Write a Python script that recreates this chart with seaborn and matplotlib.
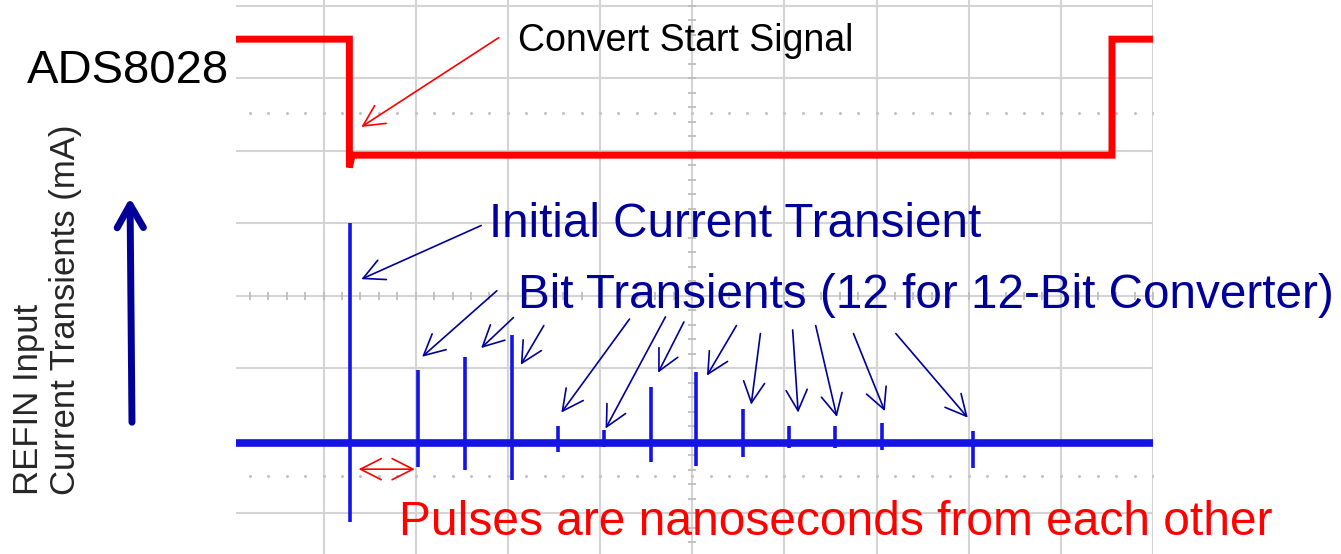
import seaborn as sns
import matplotlib.pyplot as plt
from matplotlib.patches import FancyArrowPatch

# scope screen coordinates are in divisions: x 0..10, y 0..8 (8 = top line)
# convert start signal (red channel)
red_t = [0.05, 1.28, 1.28, 1.31, 9.555, 9.555, 10.0]
red_v = [7.54, 7.54, 5.77, 5.94, 5.94, 7.54, 7.54]

# REFIN current (blue channel): baseline plus 13 transients
base_level = 1.97
spike_t = [1.29, 2.03, 2.54, 3.05, 3.54, 4.04, 4.55, 5.04, 5.55, 6.05, 6.55, 7.06, 8.05]
spike_hi = [5.01, 2.98, 3.16, 3.46, 2.21, 2.15, 2.74, 2.95, 2.44, 2.21, 2.21, 2.25, 2.14]
spike_lo = [0.88, 1.64, 1.60, 1.46, 1.85, 1.92, 1.71, 1.66, 1.78, 1.90, 1.90, 1.88, 1.63]

# annotation arrows (tail -> head) for the bit transients
bit_tail = [(2.88, 4.07), (3.06, 3.70), (3.39, 3.59), (4.32, 3.68), (4.71, 3.71), (4.91, 3.64),
            (5.48, 3.59), (5.74, 3.48), (6.09, 3.53), (6.34, 3.59), (6.75, 3.48), (7.21, 3.48)]
bit_head = [(2.07, 3.16), (2.71, 3.28), (3.14, 3.05), (3.58, 2.39), (4.06, 2.17), (4.63, 2.94),
            (5.16, 2.90), (5.64, 2.50), (6.15, 2.39), (6.57, 2.33), (7.09, 2.41), (7.99, 2.32)]

sns.set_style("white")
plt.rcParams['font.family'] = ['Liberation Sans', 'DejaVu Sans']

W, H = 1341, 554
fig = plt.figure(figsize=(W / 100, H / 100), dpi=100)
ax = fig.add_axes([236 / W, 0, (1153 - 236) / W, 1])
ax.set_xlim(0.05, 10.0)
ax.set_ylim(0.44, 8.08)

# graticule
grid_c = "#d4d4d4"
for gx in range(11):
    ax.axvline(gx, color=grid_c, lw=1.5, zorder=0)
for gy in range(9):
    ax.axhline(gy, color=grid_c, lw=1.5, zorder=0)
minor = [i / 5 for i in range(51)]
ax.plot(minor, [4] * len(minor), ls='', marker='|', ms=6, mew=1.3, color="#bdbdbd", zorder=0)
minor_y = [i / 5 for i in range(41)]
ax.plot([5] * len(minor_y), minor_y, ls='', marker='_', ms=6, mew=1.3, color="#bdbdbd", zorder=0)
for dy in (6.52, 1.52):
    ax.plot(minor, [dy] * len(minor), ls='', marker='.', ms=2.5, color="#c4c4c4", zorder=0)

# traces
sns.lineplot(x=red_t, y=red_v, sort=False, estimator=None, color="#ff0000", lw=5, ax=ax,
             zorder=2, solid_joinstyle="miter", solid_capstyle="butt")
sns.lineplot(x=[0.05, 10.0], y=[base_level, base_level], estimator=None, color="#1414e6",
             lw=5.5, ax=ax, zorder=2, solid_capstyle="butt")
ax.vlines(spike_t, spike_lo, spike_hi, color="#1414e6", lw=2.6, zorder=2)

ax.set_xticks([])
ax.set_yticks([])
sns.despine(ax=ax, left=True, bottom=True)

navy = "#000099"
thin = dict(arrowstyle="->,head_length=0.75,head_width=0.38", lw=1.2, color=navy,
            shrinkA=0, shrinkB=0, mutation_scale=20)

# text annotations
ax.annotate("", xy=(1.41, 6.33), xytext=(2.90, 7.56), annotation_clip=False,
            arrowprops={**thin, "color": "#ff0000"})
ax.text(3.11, 7.37, "Convert Start Signal", fontsize=27, color="black", va="baseline")

ax.annotate("", xy=(1.41, 4.23), xytext=(2.71, 4.97), arrowprops=thin)
ax.text(2.80, 4.81, "Initial Current Transient", fontsize=34.3, color=navy, va="baseline")

for tail, head in zip(bit_tail, bit_head):
    ax.annotate("", xy=head, xytext=tail, arrowprops=thin)
ax.text(3.11, 3.83, "Bit Transients (12 for 12-Bit Converter)", fontsize=34.3, color=navy,
        va="baseline", clip_on=False)

ax.annotate("", xy=(1.99, 1.61), xytext=(1.38, 1.61),
            arrowprops={**thin, "arrowstyle": "<->,head_length=0.75,head_width=0.38",
                        "color": "#ff0000"})
ax.text(1.82, 0.70, "Pulses are nanoseconds from each other", fontsize=34.5, color="#ff0000",
        va="baseline")

# left side labels
fig.text(27 / W, 1 - 83 / H, "ADS8028", fontsize=34, color="black", va="baseline")
fig.text(47 / W, 1 - 495 / H, "REFIN Input\nCurrent Transients (mA)", fontsize=25,
         rotation=90, ha="center", va="bottom", multialignment="left", linespacing=1.15)
fig.patches.append(FancyArrowPatch(
    (132 / W, 1 - 425 / H), (130 / W, 1 - 195 / H), transform=fig.transFigure,
    arrowstyle="->,head_length=0.75,head_width=0.43", mutation_scale=22, lw=5,
    color=navy, capstyle="round", joinstyle="round"))

fig.savefig("out.png", dpi=100)
